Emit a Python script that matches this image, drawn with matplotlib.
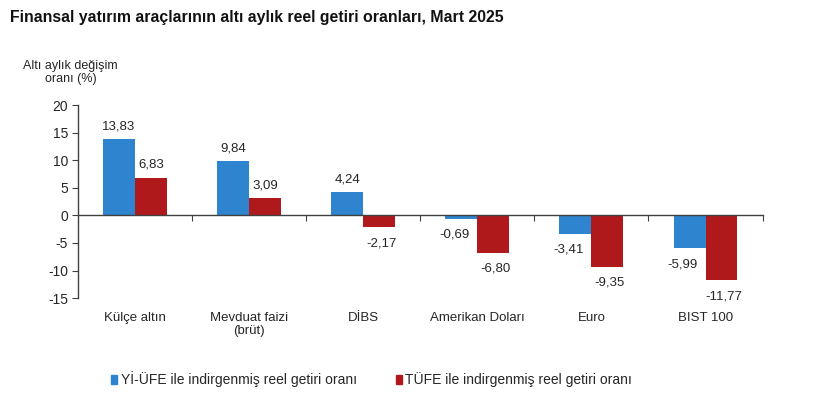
import matplotlib.pyplot as plt
from matplotlib.patches import Patch
from matplotlib.transforms import blended_transform_factory

plt.rcParams['font.family'] = ['Liberation Sans', 'DejaVu Sans']

categories = ['Külçe altın', 'Mevduat faizi\n(brüt)', 'DİBS', 'Amerikan Doları', 'Euro', 'BIST 100']
yiufe = [13.83, 9.84, 4.24, -0.69, -3.41, -5.99]
tufe = [6.83, 3.09, -2.17, -6.80, -9.35, -11.77]
series_names = ['Yİ-ÜFE ile indirgenmiş reel getiri oranı', 'TÜFE ile indirgenmiş reel getiri oranı']
yticks = [-15, -10, -5, 0, 5, 10, 15, 20]

blue = '#2F84CF'
red = '#B0191C'
txt = '#262626'

fig = plt.figure(figsize=(8.2, 3.98), dpi=100)
ax = fig.add_axes([0.095, 0.251, 0.835, 0.485])

w = 0.28
x = list(range(len(categories)))
ax.bar([i - w / 2 for i in x], yiufe, w, color=blue)
ax.bar([i + w / 2 for i in x], tufe, w, color=red)

def lab(v):
    return f'{v:.2f}'.replace('.', ',')

for i in x:
    for v, dx in ((yiufe[i], -w / 2), (tufe[i], w / 2)):
        if v >= 0:
            ax.annotate(lab(v), (i + dx, v), xytext=(0, 5), textcoords='offset points',
                        ha='center', va='bottom', fontsize=9.5, color=txt)
        else:
            ax.annotate(lab(v), (i + dx + (0.02 if dx > 0 else -0.06), v), xytext=(0, -7),
                        textcoords='offset points', ha='center', va='top', fontsize=9.5, color=txt)

ax.set_xlim(-0.5, len(categories) - 0.5)
ax.set_ylim(-15, 20)
ax.set_yticks(yticks)
ax.set_yticklabels([str(t) for t in yticks], fontsize=10, color=txt)
ax.set_xticks([i + 0.5 for i in x])
ax.set_xticklabels([])
ax.spines['top'].set_visible(False)
ax.spines['right'].set_visible(False)
ax.spines['bottom'].set_position(('data', 0))
for s in ('left', 'bottom'):
    ax.spines[s].set_color('#404040')
    ax.spines[s].set_linewidth(1)
ax.tick_params(axis='x', length=4, color='#404040')
ax.tick_params(axis='y', length=4, color='#404040', pad=3)

trans = blended_transform_factory(ax.transData, ax.transAxes)
for i, c in enumerate(categories):
    ax.text(i, -0.07, c, transform=trans, ha='center', va='top', fontsize=9.5,
            color=txt, linespacing=1.15)

fig.text(0.012, 0.955, 'Finansal yatırım araçlarının altı aylık reel getiri oranları, Mart 2025',
         fontsize=11.4, fontweight='bold', ha='left', va='center', color='#111111')
fig.text(0.086, 0.818, 'Altı aylık değişim\noranı (%)', fontsize=9, ha='center',
         va='center', color=txt, linespacing=1.15)

handles = [Patch(color=blue), Patch(color=red)]
fig.legend(handles, series_names, loc='center', bbox_to_anchor=(0.453, 0.047), ncol=2,
           frameon=False, fontsize=10, handlelength=0.45, handleheight=0.55,
           handletextpad=0.25, columnspacing=2.8, labelcolor=txt)

fig.savefig('out.png', dpi=100, facecolor='white')
